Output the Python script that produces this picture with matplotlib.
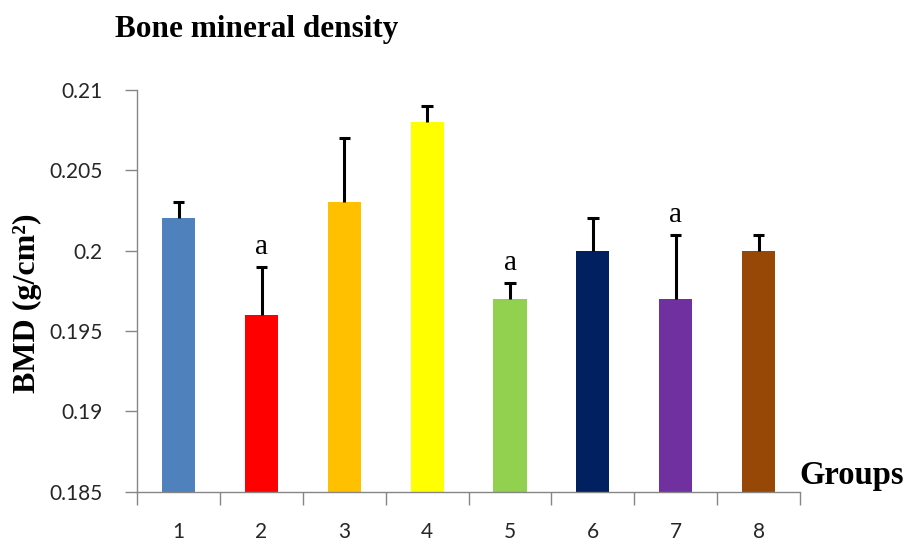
import matplotlib
matplotlib.use("Agg")
import matplotlib.pyplot as plt

groups = ["1", "2", "3", "4", "5", "6", "7", "8"]
bmd = [0.202, 0.196, 0.203, 0.208, 0.197, 0.200, 0.197, 0.200]
err = [0.001, 0.003, 0.004, 0.001, 0.001, 0.002, 0.004, 0.001]
marks = ["", "a", "", "", "a", "", "a", ""]
colors = ["#4F81BD", "#FF0000", "#FFC000", "#FFFF00",
          "#92D050", "#002060", "#7030A0", "#974706"]
yticks = [0.185, 0.19, 0.195, 0.2, 0.205, 0.21]
ytick_labels = ["0.185", "0.19", "0.195", "0.2", "0.205", "0.21"]

fig = plt.figure(figsize=(9.09, 5.45), dpi=100)
ax = fig.add_axes([0.151, 0.098, 0.729, 0.737])

x = list(range(len(groups)))
base = yticks[0]
ax.bar(x, [v - base for v in bmd], bottom=base, width=0.4,
       color=colors, zorder=2)

# one-sided (upper) error bars with a cap only at the top
tops = [v + e for v, e in zip(bmd, err)]
ax.vlines(x, bmd, tops, colors="black", linewidth=2.2, zorder=3)
for xi, t in zip(x, tops):
    ax.hlines(t, xi - 0.07, xi + 0.07, colors="black", linewidth=2.2, zorder=3)

for xi, t, m in zip(x, tops, marks):
    if m:
        ax.text(xi, t + 0.0004, m, ha="center", va="bottom",
                fontsize=21, family="Liberation Serif")

ax.set_xlim(-0.5, len(groups) - 0.5)
ax.set_ylim(yticks[0], yticks[-1])
ax.set_yticks(yticks)
ax.set_yticklabels(ytick_labels)
ax.set_xticks(x)
ax.set_xticklabels(groups)
ax.set_xticks([i - 0.5 for i in range(len(groups) + 1)], minor=True)
ax.tick_params(axis="x", which="major", length=0, pad=22)
ax.tick_params(axis="x", which="minor", length=9, width=1, color="#868686")
ax.tick_params(axis="y", length=9, width=1, color="#868686", pad=16)
for lab in ax.get_xticklabels() + ax.get_yticklabels():
    lab.set_fontfamily("Lato")
    lab.set_fontsize(15)
    lab.set_color("#262626")

for s in ["top", "right"]:
    ax.spines[s].set_visible(False)
for s in ["left", "bottom"]:
    ax.spines[s].set_color("#868686")
    ax.spines[s].set_linewidth(1)

fig.text(0.127, 0.945, "Bone mineral density", fontsize=22.5, fontweight="bold",
         family="Liberation Serif", ha="left", va="center")
fig.text(0.03, 0.443, "BMD (g/cm²)", fontsize=23, fontweight="bold",
         family="Liberation Serif", rotation=90, ha="center", va="center")
fig.text(0.879, 0.128, "Groups", fontsize=23.5, fontweight="bold",
         family="Liberation Serif", ha="left", va="center")

fig.savefig("out.png", dpi=100)
